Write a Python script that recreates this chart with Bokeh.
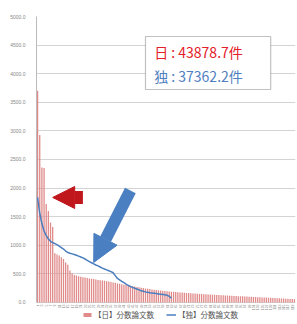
from bokeh.plotting import figure
from bokeh.models import (Range1d, FixedTicker, PrintfTickFormatter, Legend, LegendItem,
                          Label, BoxAnnotation, Arrow, NormalHead)
from bokeh.core.properties import value
from bokeh.embed import file_html
from bokeh.resources import INLINE
import math

# 日: fractional paper counts by rank
jp_values = [3700, 2930, 2360, 2350, 1720, 1600, 1400, 1320,
             860, 840, 820, 790, 760, 700, 660, 560, 510, 480, 470, 460,
             450, 440, 435, 430, 420, 415, 410, 400, 395, 390,
             385, 378, 372, 365, 356, 350, 343, 334, 328, 320,
             312, 305, 298, 292, 285, 278, 272, 265, 258, 252,
             246, 240, 235, 228, 222, 218, 213, 208, 204, 200,
             196, 192, 189, 186, 183, 180, 176, 173, 170, 167,
             164, 161, 158, 155, 152, 150, 147, 145, 142, 140,
             138, 136, 134, 132, 130, 127, 125, 123, 121, 119,
             117, 115, 113, 111, 109, 107, 105, 103, 101, 99,
             97, 95, 93, 91, 89, 87, 85, 83, 81, 79,
             77, 75, 73, 71, 69, 67, 65, 63, 61, 58]
# 独: fractional paper counts by rank
de_values = [1840, 1560, 1380, 1250, 1170, 1110, 1070, 1045, 1030, 1010,
             985, 960, 935, 900, 875, 860, 850, 840, 825, 810,
             795, 780, 760, 735, 715, 695, 675, 655, 640, 620,
             600, 585, 570, 555, 540, 520, 470, 420, 395, 370,
             345, 320, 300, 280, 265, 250, 235, 220, 205, 195,
             185, 178, 170, 165, 160, 155, 150, 145, 140, 135,
             125, 110, 75]
jp_total = "日 : 43878.7件"
de_total = "独 : 37362.2件"
legend_labels = ["【日】分数論文数", "【独】分数論文数"]
y_ticks = list(range(0, 5001, 500))

N = len(jp_values)
jp_x = list(range(1, N + 1))
de_x = list(range(1, len(de_values) + 1))
x_ticks = list(range(1, N + 1, 2))
x_tick_labels = [str(i) for i in x_ticks]

p = figure(frame_width=259, frame_height=308, output_backend="svg", toolbar_location=None,
           x_range=Range1d(0.5, N + 0.5), y_range=Range1d(-385, 5000),
           min_border_left=36, min_border_right=2, min_border_top=16, min_border_bottom=0)
p.outline_line_color = None
p.background_fill_color = "white"
p.border_fill_color = "white"

bars = p.vbar(x=jp_x, top=jp_values, width=0.6, fill_color="#e08a8a", line_color=None)
line = p.line(x=de_x, y=de_values, line_color="#4a7ebf", line_width=1.5)

# category tick labels under the zero line
p.text(x=x_ticks, y=[0] * len(x_ticks), text=x_tick_labels, angle=math.pi / 2,
       text_align="right", text_baseline="middle", y_offset=2,
       text_font_size=value("3.5px"), text_color="#888888")

p.xaxis.visible = False
p.xgrid.visible = False
p.ygrid.grid_line_color = "#d4d4d4"
p.ygrid.ticker = FixedTicker(ticks=y_ticks)

p.yaxis.ticker = FixedTicker(ticks=y_ticks)
p.yaxis.bounds = (0, 5000)
p.yaxis.formatter = PrintfTickFormatter(format="%.1f")
p.yaxis.major_label_text_font_size = "5px"
p.yaxis.major_label_text_color = "#888888"
p.yaxis.major_tick_line_color = None
p.yaxis.minor_tick_line_color = None
p.yaxis.axis_line_color = "#bbbbbb"

legend = Legend(items=[LegendItem(label=legend_labels[0], renderers=[bars]),
                       LegendItem(label=legend_labels[1], renderers=[line])],
                orientation="horizontal", location=(46, 4),
                label_text_font="Noto Sans CJK JP", label_text_font_size="7.5px",
                label_text_color="#555555", glyph_width=10, glyph_height=5,
                spacing=12, padding=0, margin=0, border_line_color=None,
                background_fill_alpha=0, label_standoff=2, label_height=7)
p.add_layout(legend)

# annotation box
box = BoxAnnotation(left=51, right=109, top=4650, bottom=3724,
                    fill_color="white", fill_alpha=1.0, line_color="#333333", line_width=1.2)
p.add_layout(box)
p.add_layout(Label(x=55, y=4371, text=jp_total, text_color="#e3202a",
                   text_font="Noto Sans CJK JP", text_font_size="14px", text_baseline="middle"))
p.add_layout(Label(x=55, y=3951, text=de_total, text_color="#4f7fbf",
                   text_font="Noto Sans CJK JP", text_font_size="14px", text_baseline="middle"))

# arrows
p.add_layout(Arrow(x_start=22, y_start=1836, x_end=8, y_end=1836,
                   line_color="#c0171d", line_width=13,
                   end=NormalHead(size=22, fill_color="#c0171d", line_color="#c0171d")))
p.add_layout(Arrow(x_start=44, y_start=1958, x_end=27, y_end=700,
                   line_color="#4a7fc2", line_width=12,
                   end=NormalHead(size=26, fill_color="#4a7fc2", line_color="#4a7fc2")))

open("out.html", "w").write(file_html(p, INLINE))
